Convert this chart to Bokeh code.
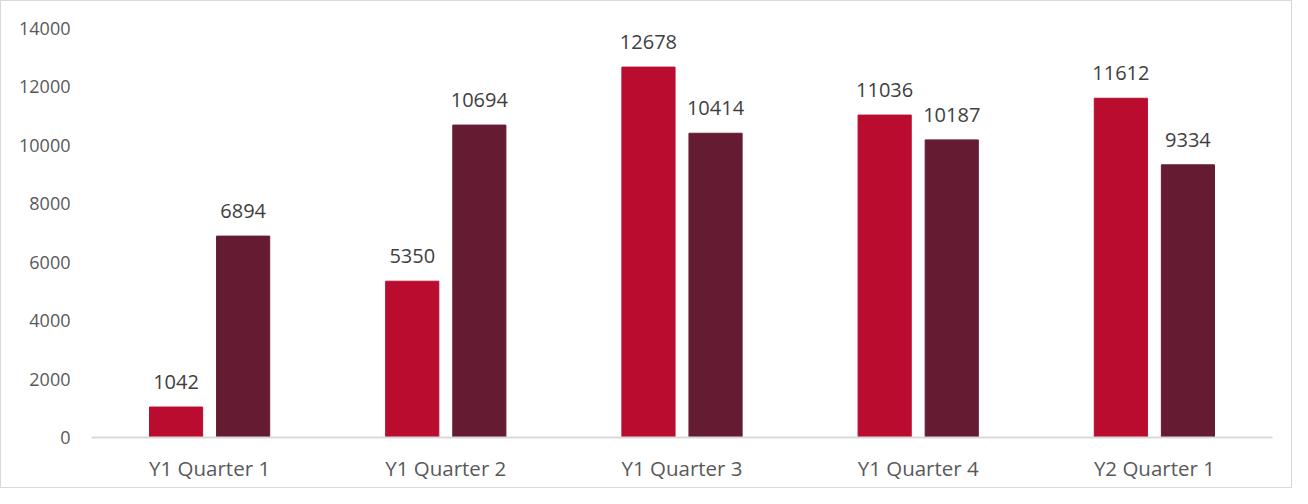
from bokeh.plotting import figure
from bokeh.models import ColumnDataSource, FactorRange, LabelSet, Range1d, FixedTicker
from bokeh.core.properties import value
from bokeh.transform import dodge
from bokeh.embed import file_html
from bokeh.resources import INLINE

categories = ["Y1 Quarter 1", "Y1 Quarter 2", "Y1 Quarter 3", "Y1 Quarter 4", "Y2 Quarter 1"]
series_a = [1042, 5350, 12678, 11036, 11612]
series_b = [6894, 10694, 10414, 10187, 9334]
y_ticks = [0, 2000, 4000, 6000, 8000, 10000, 12000, 14000]

FONT = "Open Sans"
RED = "#BA0C2F"
MAROON = "#651C32"

src = ColumnDataSource(data=dict(
    cat=categories,
    a=series_a,
    b=series_b,
    a_txt=[str(v) for v in series_a],
    b_txt=[str(v) for v in series_b],
))

p = figure(
    x_range=FactorRange(factors=categories, range_padding=0),
    y_range=Range1d(0, 14000),
    width=1292, height=488,
    output_backend="svg", toolbar_location=None,
    min_border_left=90, min_border_right=21, min_border_top=27, min_border_bottom=52,
)
p.styles = {"border": "1px solid #d9d9d9"}
p.outline_line_color = None
p.xgrid.grid_line_color = None
p.ygrid.grid_line_color = None
p.background_fill_color = "white"
p.border_fill_color = "white"

off = 0.142
w = 0.225
p.vbar(x=dodge("cat", -off, range=p.x_range), top="a", width=w, source=src,
       fill_color=RED, line_color=RED)
p.vbar(x=dodge("cat", off, range=p.x_range), top="b", width=w, source=src,
       fill_color=MAROON, line_color=MAROON)

for col, txt, dx in (("a", "a_txt", -off), ("b", "b_txt", off)):
    lbl = LabelSet(x=dodge("cat", dx, range=p.x_range), y=col, text=txt, source=src,
                   text_align="center", text_baseline="middle", y_offset=25,
                   text_font=value(FONT), text_font_size=value("20px"),
                   text_color=value("#404040"))
    p.add_layout(lbl)

p.yaxis.ticker = FixedTicker(ticks=y_ticks)
p.yaxis.axis_line_color = None
p.yaxis.major_tick_line_color = None
p.yaxis.minor_tick_line_color = None
p.yaxis.major_label_standoff = 15
p.yaxis.major_label_text_font = FONT
p.yaxis.major_label_text_font_size = "18px"
p.yaxis.major_label_text_color = "#595959"

p.xaxis.axis_line_color = "#d9d9d9"
p.xaxis.axis_line_width = 2
p.xaxis.major_tick_line_color = None
p.xaxis.minor_tick_line_color = None
p.xaxis.major_label_standoff = 10
p.xaxis.major_label_text_font = FONT
p.xaxis.major_label_text_font_size = "20.5px"
p.xaxis.major_label_text_color = "#595959"

open("out.html", "w").write(file_html(p, INLINE))
